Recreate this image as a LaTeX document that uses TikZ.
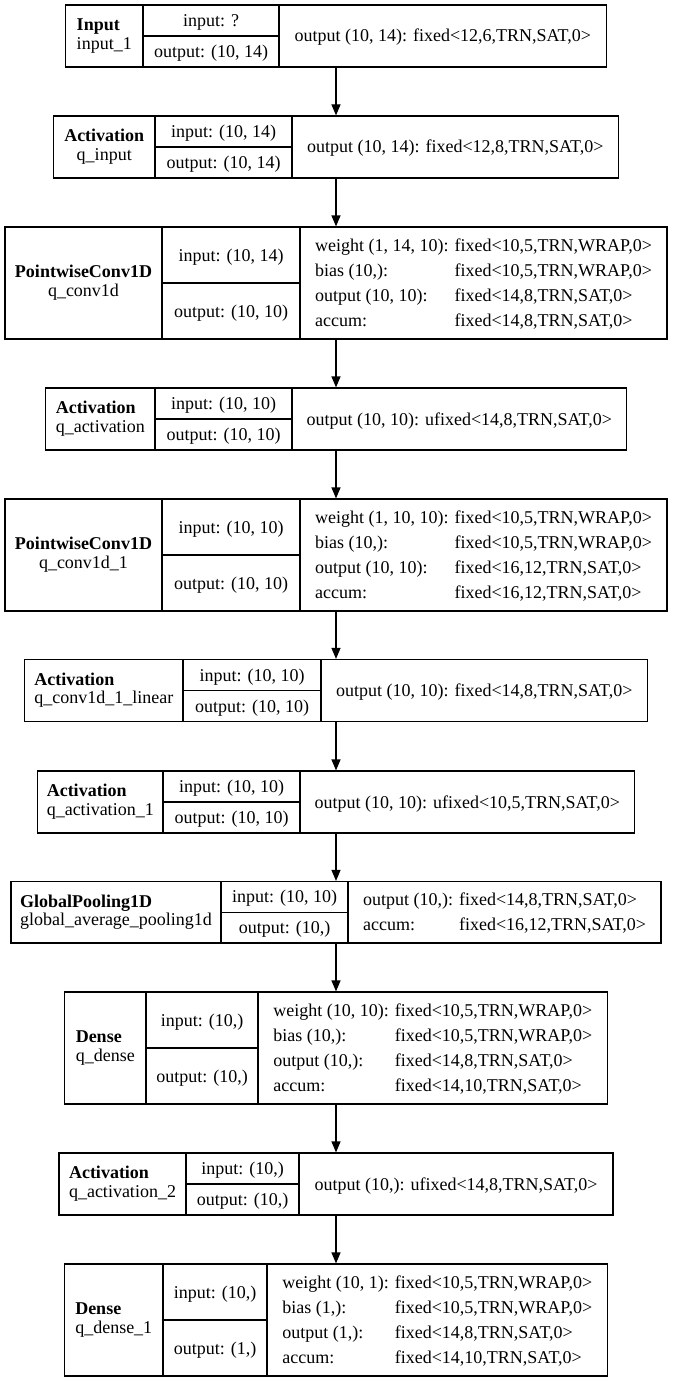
\documentclass[tikz,border=0pt]{standalone}
\usepackage{fontspec}
\setmainfont{Liberation Serif}
\usetikzlibrary{arrows.meta}
\newcommand{\ttl}[2]{\rule{0pt}{13pt}\textbf{#1}\\#2\rule[-5pt]{0pt}{5pt}}
\newcommand{\rc}[1]{\begin{tabular}{@{}l@{\hspace{6pt}}l@{}}#1\end{tabular}}
\newcommand{\mkbox}[6]{%
  \node[layerbox, minimum width=#2pt, minimum height=#4pt] (#1) at (336,{#3+#4/2}) {};
  \draw[divline] (#5,#3) -- (#5,{#3+#4});
  \draw[divline] (#6,#3) -- (#6,{#3+#4});
  \draw[divline] (#5,{#3+#4/2}) -- (#6,{#3+#4/2});
  \coordinate (#1-t) at ({(336-#2/2+#5)/2},{#3+#4/2});
  \coordinate (#1-i) at ({(#5+#6)/2},{#3+#4/4});
  \coordinate (#1-o) at ({(#5+#6)/2},{#3+3*#4/4});
  \coordinate (#1-r) at ({(#6+336+#2/2)/2},{#3+#4/2});
}
\begin{document}
\begin{tikzpicture}[x=1pt,y=-1pt,
  layerbox/.style={draw=black, line width=1.2pt, inner sep=0pt},
  divline/.style={draw=black, line width=1.2pt},
  titletext/.style={inner sep=0pt, font=\fontsize{18}{18.5}\selectfont},
  celltext/.style={inner sep=0pt, text height=12pt, text depth=0pt, font=\fontsize{18}{22}\selectfont},
  righttext/.style={inner sep=0pt, yshift=-1pt, font=\fontsize{18}{25}\selectfont},
  arr/.style={draw=black, line width=1.2pt, -{Triangle[length=11pt,width=9pt]}}]
\fill[white] (0,0) rectangle (672,1383);
\useasboundingbox (0,0) rectangle (672,1383);

% 1 Input
\mkbox{b1}{541}{5}{62}{143}{279}
\node[titletext, align=left] (b1t) at (b1-t) {\ttl{Input}{input\_1}};
\node[celltext] (b1i) at (b1-i) {input: ?};
\node[celltext] (b1o) at (b1-o) {output: (10, 14)};
\node[righttext] (b1r) at (b1-r) {\rc{output (10, 14): & fixed<12,6,TRN,SAT,0>}};

% 2 Activation q_input
\mkbox{b2}{565}{116}{62}{155}{292}
\node[titletext, align=center] (b2t) at (b2-t) {\ttl{Activation}{q\_input}};
\node[celltext] (b2i) at (b2-i) {input: (10, 14)};
\node[celltext] (b2o) at (b2-o) {output: (10, 14)};
\node[righttext] (b2r) at (b2-r) {\rc{output (10, 14): & fixed<12,8,TRN,SAT,0>}};

% 3 PointwiseConv1D q_conv1d
\mkbox{b3}{662}{227}{112}{162}{300}
\node[titletext, align=center] (b3t) at (b3-t) {\ttl{PointwiseConv1D}{q\_conv1d}};
\node[celltext] (b3i) at (b3-i) {input: (10, 14)};
\node[celltext] (b3o) at (b3-o) {output: (10, 10)};
\node[righttext] (b3r) at (b3-r) {\rc{weight (1, 14, 10): & fixed<10,5,TRN,WRAP,0>\\
bias (10,): & fixed<10,5,TRN,WRAP,0>\\
output (10, 10): & fixed<14,8,TRN,SAT,0>\\
accum: & fixed<14,8,TRN,SAT,0>}};

% 4 Activation q_activation
\mkbox{b4}{581}{388}{62}{155}{292}
\node[titletext, align=left] (b4t) at (b4-t) {\ttl{Activation}{q\_activation}};
\node[celltext] (b4i) at (b4-i) {input: (10, 10)};
\node[celltext] (b4o) at (b4-o) {output: (10, 10)};
\node[righttext] (b4r) at (b4-r) {\rc{output (10, 10): & ufixed<14,8,TRN,SAT,0>}};

% 5 PointwiseConv1D q_conv1d_1
\mkbox{b5}{662}{499}{112}{162}{300}
\node[titletext, align=center] (b5t) at (b5-t) {\ttl{PointwiseConv1D}{q\_conv1d\_1}};
\node[celltext] (b5i) at (b5-i) {input: (10, 10)};
\node[celltext] (b5o) at (b5-o) {output: (10, 10)};
\node[righttext] (b5r) at (b5-r) {\rc{weight (1, 10, 10): & fixed<10,5,TRN,WRAP,0>\\
bias (10,): & fixed<10,5,TRN,WRAP,0>\\
output (10, 10): & fixed<16,12,TRN,SAT,0>\\
accum: & fixed<16,12,TRN,SAT,0>}};

% 6 Activation q_conv1d_1_linear
\mkbox{b6}{623}{659.5}{62}{183}{321}
\node[titletext, align=left] (b6t) at (b6-t) {\ttl{Activation}{q\_conv1d\_1\_linear}};
\node[celltext] (b6i) at (b6-i) {input: (10, 10)};
\node[celltext] (b6o) at (b6-o) {output: (10, 10)};
\node[righttext] (b6r) at (b6-r) {\rc{output (10, 10): & fixed<14,8,TRN,SAT,0>}};

% 7 Activation q_activation_1
\mkbox{b7}{597}{771}{62}{163}{300}
\node[titletext, align=left] (b7t) at (b7-t) {\ttl{Activation}{q\_activation\_1}};
\node[celltext] (b7i) at (b7-i) {input: (10, 10)};
\node[celltext] (b7o) at (b7-o) {output: (10, 10)};
\node[righttext] (b7r) at (b7-r) {\rc{output (10, 10): & ufixed<10,5,TRN,SAT,0>}};

% 8 GlobalPooling1D
\mkbox{b8}{650}{881.5}{61.5}{221}{348}
\node[titletext, align=left] (b8t) at (b8-t) {\ttl{GlobalPooling1D}{global\_average\_pooling1d}};
\node[celltext] (b8i) at (b8-i) {input: (10, 10)};
\node[celltext] (b8o) at (b8-o) {output: (10,)};
\node[righttext] (b8r) at (b8-r) {\rc{output (10,): & fixed<14,8,TRN,SAT,0>\\
accum: & fixed<16,12,TRN,SAT,0>}};

% 9 Dense q_dense
\mkbox{b9}{543}{992}{112}{146}{258}
\node[titletext, align=left] (b9t) at (b9-t) {\ttl{Dense}{q\_dense}};
\node[celltext] (b9i) at (b9-i) {input: (10,)};
\node[celltext] (b9o) at (b9-o) {output: (10,)};
\node[righttext] (b9r) at (b9-r) {\rc{weight (10, 10): & fixed<10,5,TRN,WRAP,0>\\
bias (10,): & fixed<10,5,TRN,WRAP,0>\\
output (10,): & fixed<14,8,TRN,SAT,0>\\
accum: & fixed<14,10,TRN,SAT,0>}};

% 10 Activation q_activation_2
\mkbox{b10}{554}{1153}{62}{186}{299}
\node[titletext, align=left] (b10t) at (b10-t) {\ttl{Activation}{q\_activation\_2}};
\node[celltext] (b10i) at (b10-i) {input: (10,)};
\node[celltext] (b10o) at (b10-o) {output: (10,)};
\node[righttext] (b10r) at (b10-r) {\rc{output (10,): & ufixed<14,8,TRN,SAT,0>}};

% 11 Dense q_dense_1
\mkbox{b11}{543}{1264}{112}{163}{267}
\node[titletext, align=left] (b11t) at (b11-t) {\ttl{Dense}{q\_dense\_1}};
\node[celltext] (b11i) at (b11-i) {input: (10,)};
\node[celltext] (b11o) at (b11-o) {output: (1,)};
\node[righttext] (b11r) at (b11-r) {\rc{weight (10, 1): & fixed<10,5,TRN,WRAP,0>\\
bias (1,): & fixed<10,5,TRN,WRAP,0>\\
output (1,): & fixed<14,8,TRN,SAT,0>\\
accum: & fixed<14,10,TRN,SAT,0>}};

% connectors
\draw[arr] (b1.south) -- (b2.north);
\draw[arr] (b2.south) -- (b3.north);
\draw[arr] (b3.south) -- (b4.north);
\draw[arr] (b4.south) -- (b5.north);
\draw[arr] (b5.south) -- (b6.north);
\draw[arr] (b6.south) -- (b7.north);
\draw[arr] (b7.south) -- (b8.north);
\draw[arr] (b8.south) -- (b9.north);
\draw[arr] (b9.south) -- (b10.north);
\draw[arr] (b10.south) -- (b11.north);
\end{tikzpicture}
\end{document}
